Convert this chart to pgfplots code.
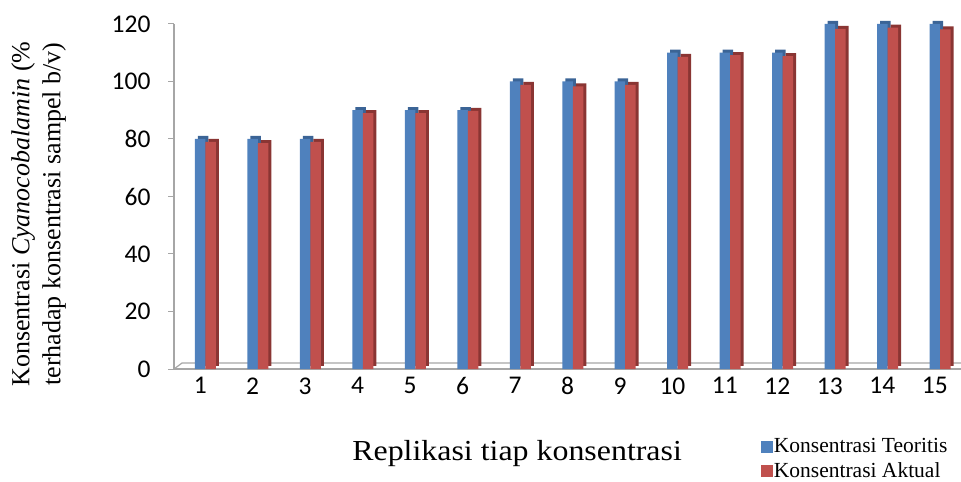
\documentclass[border=0pt]{standalone}
\usepackage{pgfplots}
\pgfplotsset{compat=1.18}
\usepackage{pgfplotstable}
\usetikzlibrary{calc}
\usepackage{fontspec}
\setmainfont{Liberation Serif}
\newfontfamily\tickfont{Carlito}

\definecolor{teoBlue}{HTML}{4F81BD}
\definecolor{teoBlueDark}{HTML}{3B6496}
\definecolor{aktRed}{HTML}{C0504D}
\definecolor{aktRedDark}{HTML}{8A3533}
\definecolor{floorGray}{HTML}{A6A6A6}

% Replikasi, Konsentrasi Teoritis, Konsentrasi Aktual (% b/v)
\pgfplotstableread{
rep teoritis aktual
1   80  79.0
2   80  78.6
3   80  79.0
4   90  89.0
5   90  89.0
6   90  89.8
7   100 98.8
8   100 98.3
9   100 98.8
10  110 108.6
11  110 109.2
12  110 108.8
13  120 118.3
14  120 118.7
15  120 118.1
}\datatable

\begin{document}
\begin{tikzpicture}
\begin{axis}[
  at={(174bp,113bp)}, anchor=south west,
  scale only axis,
  width=787bp, height=345bp,
  xmin=0.5, xmax=15.5,
  ymin=0, ymax=120,
  ytick={0,20,...,120},
  xtick={1,...,15},
  axis x line*=bottom,
  axis y line*=left,
  x axis line style={draw=none},
  xtick style={draw=none},
  y axis line style={floorGray, line width=1.2bp, -},
  ytick style={floorGray, line width=1bp},
  tick align=outside,
  major tick length=6bp,
  ticklabel style={font=\tickfont\fontsize{25.5bp}{29bp}\selectfont},
  /pgf/number format/assume math mode=true,
  yticklabel style={xshift=-14bp},
  xticklabel style={yshift=1bp},
  clip=false,
  ybar,
  bar width=10.5bp,
  ylabel={Konsentrasi \textit{Cyanocobalamin} (\%\\terhadap konsentrasi sampel b/v)},
  ylabel style={font=\fontsize{26bp}{31bp}\selectfont, align=center,
    at={(axis description cs:-0.172,0.449)}, anchor=center},
  xlabel={Replikasi tiap konsentrasi},
  xlabel style={font=\fontsize{29bp}{33bp}\selectfont, xscale=1.1,
    at={(axis description cs:0.436,-0.264)}, anchor=base},
  legend style={at={(axis description cs:0.745,-0.195)}, anchor=north west,
    draw=none, fill=none, inner sep=0pt, row sep=4bp,
    font=\fontsize{21.5bp}{23bp}\selectfont,
    legend cell align=left},
]
% gray floor of the plot area
\draw[floorGray, line width=1.2bp] (axis cs:0.5,0) -- (axis cs:15.5,0);
\draw[floorGray, line width=1.2bp] (axis cs:0.5,0) -- ++(8bp,6bp) -- ($(axis cs:15.5,0)+(8bp,6bp)$);
% columns with a shaded side and top
\addplot[fill=teoBlue, draw=none, bar shift=0bp, forget plot,
  preaction={fill=teoBlueDark, transform canvas={shift={(3bp,3bp)}}}]
  table[x=rep, y=teoritis] {\datatable};
\addplot[fill=aktRed, draw=none, bar shift=10.5bp, forget plot,
  preaction={fill=aktRedDark, transform canvas={shift={(3bp,3bp)}}}]
  table[x=rep, y=aktual] {\datatable};
% legend keys: plain squares
\addlegendimage{legend image code/.code={\fill[teoBlue] (0bp,-5.5bp) rectangle (11bp,5.5bp);}}
\addlegendentry{Konsentrasi Teoritis}
\addlegendimage{legend image code/.code={\fill[aktRed] (0bp,-5.5bp) rectangle (11bp,5.5bp);}}
\addlegendentry{Konsentrasi Aktual}
\end{axis}
\pgfresetboundingbox
\path (0,0) rectangle (961bp,482bp);
\end{tikzpicture}
\end{document}
